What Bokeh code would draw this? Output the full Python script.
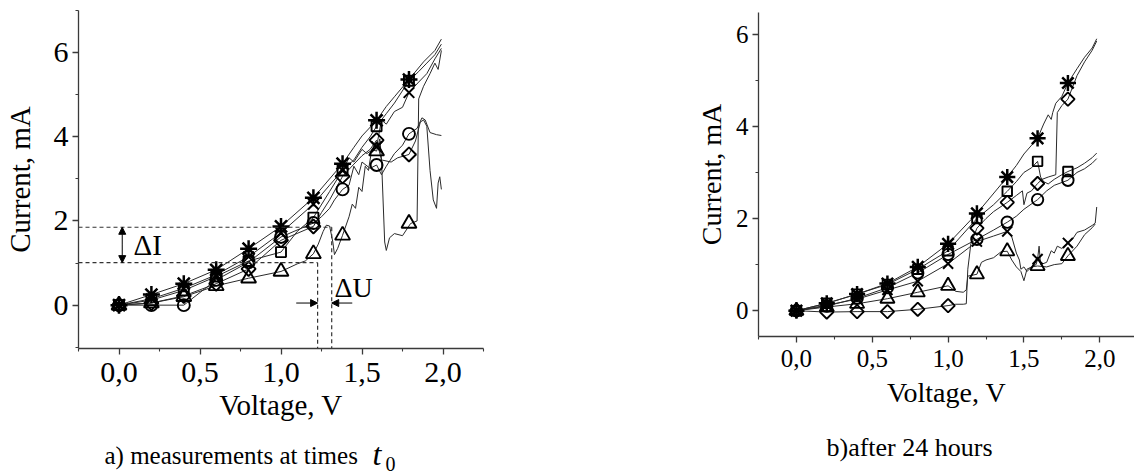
import math
from bokeh.plotting import figure
from bokeh.layouts import row, column
from bokeh.models import FixedTicker, Label, Arrow, NormalHead, CustomJSTickFormatter, Range1d, Spacer
from bokeh.embed import file_html
from bokeh.resources import INLINE

FONT = "Liberation Serif"

# ---------------- panel a) measurements at t0 ----------------
xa = [0.0, 0.2, 0.4, 0.6, 0.8, 1.0, 1.2, 1.38, 1.59, 1.79]
a_star = [0.0, 0.25, 0.51, 0.84, 1.34, 1.87, 2.55, 3.36, 4.39, 5.36]
a_square = [0.0, 0.12, 0.35, 0.68, 1.05, 1.26, 2.08, 3.2, 4.25, 5.33]
a_circle = [0.0, 0.0, 0.0, 0.6, 1.02, 1.62, 1.95, 2.75, 3.33, 4.07]
a_diamond = [0.0, 0.05, 0.22, 0.51, 0.86, 1.54, 1.87, 3.06, 3.92, 3.58]
a_triangle = [0.0, 0.05, 0.2, 0.46, 0.64, 0.8, 1.22, 1.66, 3.66, 1.94]
a_cross = [0.0, 0.15, 0.4, 0.72, 1.15, 1.72, 2.4, 3.2, 3.76, 5.05]

a_star_lx = [0, 0.2, 0.4, 0.6, 0.8, 1.0, 1.2, 1.38, 1.45, 1.5, 1.59, 1.65, 1.7, 1.79, 1.88, 1.95, 1.99]
a_star_ly = [0, 0.25, 0.51, 0.84, 1.34, 1.87, 2.55, 3.36, 3.75, 4.02, 4.39, 4.72, 4.95, 5.36, 5.78, 6.05, 6.32]
a_square_lx = [0, 0.2, 0.4, 0.6, 0.8, 1.0, 1.1, 1.2, 1.3, 1.38, 1.45, 1.5, 1.55, 1.59, 1.65, 1.7, 1.79, 1.85, 1.9, 1.95, 1.99]
a_square_ly = [0, 0.12, 0.35, 0.68, 1.05, 1.26, 1.75, 2.08, 2.7, 3.2, 3.45, 3.75, 4.0, 4.25, 4.55, 4.8, 5.33, 5.55, 5.75, 5.95, 6.2]
a_cross_lx = [0, 0.2, 0.4, 0.6, 0.8, 1.0, 1.2, 1.3, 1.38, 1.42, 1.45, 1.5, 1.53, 1.59, 1.62, 1.65, 1.7, 1.75, 1.79, 1.85, 1.9, 1.95, 1.99]
a_cross_ly = [0, 0.15, 0.4, 0.72, 1.15, 1.72, 2.4, 2.85, 3.2, 3.5, 3.4, 3.7, 3.6, 3.76, 4.4, 4.3, 4.6, 4.7, 5.05, 5.3, 5.5, 5.85, 6.1]
a_triangle_lx = [0, 0.2, 0.4, 0.6, 0.8, 1.0, 1.1, 1.15, 1.2, 1.23, 1.26, 1.28, 1.3, 1.32, 1.33, 1.35, 1.38, 1.42, 1.44, 1.46, 1.48,
                 1.5, 1.52, 1.54, 1.56, 1.59, 1.61, 1.62, 1.64, 1.65, 1.67, 1.7, 1.75, 1.8, 1.84, 1.85, 1.88, 1.92, 1.95, 1.97, 1.99]
a_triangle_ly = [0, 0.05, 0.2, 0.46, 0.64, 0.8, 0.98, 1.05, 1.22, 1.45, 1.75, 1.9, 1.88, 1.5, 1.2, 1.35, 1.66, 2.1, 2.4, 2.3, 2.8,
                 2.7, 3.3, 3.2, 3.7, 3.66, 3.95, 3.5, 1.5, 1.3, 1.6, 1.7, 1.65, 1.94, 2.0, 4.9, 5.2, 5.5, 5.75, 5.6, 6.05]
a_circle_lx = [0, 0.2, 0.4, 0.6, 0.8, 1.0, 1.2, 1.25, 1.3, 1.33, 1.38, 1.42, 1.45, 1.48, 1.5, 1.55, 1.59, 1.62, 1.65, 1.7, 1.75,
               1.79, 1.84, 1.87, 1.89, 1.92, 1.96, 1.99]
a_circle_ly = [0, 0, 0, 0.6, 1.02, 1.62, 1.95, 2.1, 2.3, 2.5, 2.75, 2.85, 3.3, 3.1, 3.4, 3.25, 3.33, 3.1, 3.3, 3.6, 3.8,
               4.07, 4.2, 4.45, 4.4, 4.1, 4.05, 4.03]
a_diamond_lx = [0, 0.2, 0.4, 0.6, 0.8, 1.0, 1.2, 1.25, 1.3, 1.38, 1.45, 1.5, 1.55, 1.59, 1.62, 1.68, 1.72, 1.79, 1.83, 1.86, 1.88,
                1.9, 1.92, 1.94, 1.96, 1.97, 1.98, 1.99]
a_diamond_ly = [0, 0.05, 0.22, 0.51, 0.86, 1.54, 1.87, 2.2, 2.5, 3.06, 3.35, 3.55, 3.7, 3.92, 3.45, 3.4, 3.5, 3.58, 3.9, 4.35, 4.4,
                4.25, 3.2, 2.5, 2.3, 2.9, 3.05, 2.75]

# delta annotations (panel a)
dI_low, dI_high = 1.01, 1.85
dU_left, dU_right = 1.226, 1.313

# ---------------- panel b) after 24 hours ----------------
xb = [0.0, 0.2, 0.4, 0.6, 0.8, 1.0, 1.19, 1.39, 1.59, 1.79]
b_star = [0.0, 0.16, 0.36, 0.59, 0.95, 1.45, 2.11, 2.9, 3.74, 4.94]
b_square = [0.0, 0.16, 0.36, 0.57, 0.9, 1.3, 2.0, 2.59, 3.24, 3.02]
b_circle = [0.0, 0.1, 0.27, 0.5, 0.82, 1.22, 1.55, 1.92, 2.41, 2.83]
b_diamond = [0.0, -0.03, -0.02, -0.02, 0.03, 0.11, 1.79, 2.35, 2.76, 4.59]
b_triangle = [0.0, 0.08, 0.15, 0.26, 0.4, 0.54, 0.79, 1.29, 0.97, 1.19]
b_cross = [0.0, 0.12, 0.25, 0.45, 0.64, 1.02, 1.5, 1.72, 1.12, 1.47]

b_star_lx = [0, 0.2, 0.4, 0.6, 0.8, 1.0, 1.19, 1.39, 1.45, 1.5, 1.59, 1.63, 1.66, 1.68, 1.69, 1.71, 1.75, 1.79, 1.85, 1.9, 1.95, 1.98]
b_star_ly = [0, 0.16, 0.36, 0.59, 0.95, 1.45, 2.11, 2.9, 3.15, 3.4, 3.74, 4.05, 4.25, 4.15, 4.3, 4.5, 4.65, 4.94, 5.25, 5.5, 5.7, 5.9]
b_square_lx = [0, 0.2, 0.4, 0.6, 0.8, 1.0, 1.19, 1.3, 1.39, 1.45, 1.5, 1.55, 1.59, 1.61, 1.63, 1.66, 1.7, 1.75, 1.79, 1.85, 1.9, 1.95, 1.98]
b_square_ly = [0, 0.16, 0.36, 0.57, 0.9, 1.3, 2.0, 2.3, 2.59, 2.8, 3.0, 3.1, 3.24, 2.9, 2.8, 2.75, 2.85, 2.95, 3.02, 3.1, 3.2, 3.32, 3.42]
b_circle_lx = [0, 0.2, 0.4, 0.6, 0.8, 1.0, 1.19, 1.3, 1.39, 1.45, 1.5, 1.59, 1.65, 1.7, 1.79, 1.85, 1.9, 1.95, 1.98]
b_circle_ly = [0, 0.1, 0.27, 0.5, 0.82, 1.22, 1.55, 1.75, 1.92, 2.05, 2.2, 2.41, 2.6, 2.72, 2.83, 3.0, 3.08, 3.2, 3.3]
b_diamond_lx = [0, 0.2, 0.4, 0.6, 0.8, 1.0, 1.05, 1.1, 1.12, 1.13, 1.15, 1.19, 1.25, 1.3, 1.39, 1.45, 1.49, 1.5, 1.52, 1.55, 1.59,
                1.62, 1.66, 1.71, 1.72, 1.75, 1.79, 1.85, 1.9, 1.95, 1.98]
b_diamond_ly = [0, -0.03, -0.02, -0.02, 0.03, 0.11, 0.14, 0.14, 0.15, 0.9, 1.45, 1.79, 2.0, 2.15, 2.35, 2.5, 2.6, 2.3, 2.55, 2.6, 2.76,
                2.85, 2.9, 2.95, 4.3, 4.45, 4.59, 5.1, 5.4, 5.65, 5.85]
b_triangle_lx = [0, 0.2, 0.4, 0.6, 0.8, 1.0, 1.05, 1.1, 1.12, 1.13, 1.19, 1.22, 1.25, 1.3, 1.35, 1.39, 1.42, 1.45, 1.48, 1.5, 1.52,
                 1.55, 1.59, 1.65, 1.7, 1.75, 1.79, 1.85, 1.9, 1.95, 1.97]
b_triangle_ly = [0, 0.08, 0.15, 0.26, 0.4, 0.54, 0.42, 0.4, 0.45, 0.75, 0.79, 1.05, 1.1, 1.15, 1.28, 1.29, 1.1, 0.95, 0.85, 0.65, 0.9,
                 0.95, 0.97, 0.95, 1.0, 1.02, 1.19, 1.4, 1.65, 1.8, 1.88]
b_cross_lx = [0, 0.2, 0.4, 0.6, 0.8, 1.0, 1.19, 1.3, 1.39, 1.42, 1.45, 1.47, 1.48, 1.5, 1.52, 1.55, 1.58, 1.59, 1.6, 1.61, 1.65,
              1.68, 1.7, 1.72, 1.75, 1.79, 1.82, 1.85, 1.9, 1.95, 1.97, 1.98]
b_cross_ly = [0, 0.12, 0.25, 0.45, 0.64, 1.02, 1.5, 1.62, 1.72, 1.6, 1.25, 1.1, 0.9, 0.95, 0.85, 0.95, 1.0, 1.12, 1.4, 1.0, 1.05,
              1.3, 1.25, 1.4, 1.35, 1.47, 1.55, 1.7, 1.75, 1.85, 1.9, 2.25]

x_major = [0.0, 0.5, 1.0, 1.5, 2.0]
x_minor = [-0.25, 0.25, 0.75, 1.25, 1.75, 2.25]
y_major = [0, 2, 4, 6]

LINE_COLOR = "#2a2a2a"
AXIS_COLOR = "#3a3a3a"


def style_axes(p, tick_size, label_size, y_minor, lbl_x, lbl_y, std_x, std_y):
    p.xgrid.visible = False
    p.ygrid.visible = False
    p.outline_line_color = None
    p.xaxis.ticker = FixedTicker(ticks=x_major, minor_ticks=x_minor)
    p.yaxis.ticker = FixedTicker(ticks=y_major, minor_ticks=y_minor)
    p.xaxis.formatter = CustomJSTickFormatter(code="return tick.toFixed(1).replace('.', ',');")
    for ax in (p.xaxis[0], p.yaxis[0]):
        ax.axis_line_color = AXIS_COLOR
        ax.axis_line_width = 1.3
        ax.major_tick_line_color = AXIS_COLOR
        ax.minor_tick_line_color = AXIS_COLOR
        ax.major_tick_line_width = 1.3
        ax.minor_tick_line_width = 1.1
        ax.major_tick_in = 0
        ax.major_tick_out = 6
        ax.minor_tick_in = 0
        ax.minor_tick_out = 3
        ax.major_label_text_font = FONT
        ax.major_label_text_font_size = tick_size
        ax.major_label_text_color = "black"
        ax.axis_label_text_font = FONT
        ax.axis_label_text_font_size = label_size
        ax.axis_label_text_font_style = "normal"
        ax.axis_label_text_color = "black"
    p.xaxis.major_label_standoff = std_x
    p.yaxis.major_label_standoff = std_y
    p.xaxis.axis_label_standoff = lbl_x
    p.yaxis.axis_label_standoff = lbl_y
    p.xaxis.axis_label = "Voltage, V"
    p.yaxis.axis_label = "Current, mA"


def draw_series(p, lines, marks, scale):
    for lx, ly in lines:
        p.line(lx, ly, line_color=LINE_COLOR, line_width=1.0)
    for mx, my, mk in marks:
        kw = dict(line_color="black", fill_color=None)
        if mk == "diamond":
            p.scatter(mx, my, marker="square", angle=math.pi / 4, size=10 * scale, line_width=1.9, **kw)
        elif mk == "asterisk":
            p.scatter(mx, my, marker="asterisk", size=17 * scale, line_width=2.5, **kw)
        elif mk == "x":
            p.scatter(mx, my, marker="x", size=15 * scale, line_width=2.0, **kw)
        elif mk == "triangle":
            p.scatter(mx, my, marker="triangle", size=15 * scale, line_width=1.9, **kw)
        elif mk == "square":
            p.scatter(mx, my, marker="square", size=10 * scale, line_width=1.9, **kw)
        else:
            p.scatter(mx, my, marker="circle", size=12 * scale, line_width=1.9, **kw)


def caption_fig(w, h, left, right):
    c = figure(width=w, height=h, x_range=Range1d(0, 1), y_range=Range1d(0, 1),
               output_backend="svg", toolbar_location=None, x_axis_location=None, y_axis_location=None,
               min_border_left=left, min_border_right=right, min_border_top=0, min_border_bottom=0)
    c.xgrid.visible = False
    c.ygrid.visible = False
    c.outline_line_color = None
    return c


B = 70  # common bottom border of both main figures

# ---------- figure a ----------
pa = figure(width=568, height=10 + 343 + B, x_range=Range1d(-0.25, 2.25), y_range=Range1d(-1.03, 7.0),
            output_backend="svg", toolbar_location=None,
            min_border_left=72, min_border_right=85, min_border_top=10, min_border_bottom=B)
style_axes(pa, "30px", "29px", [-1, 1, 3, 5, 7], 4, 15, 8, 4)

draw_series(pa,
            [(a_star_lx, a_star_ly), (a_square_lx, a_square_ly), (a_cross_lx, a_cross_ly),
             (a_triangle_lx, a_triangle_ly), (a_circle_lx, a_circle_ly), (a_diamond_lx, a_diamond_ly)],
            [(xa, a_triangle, "triangle"), (xa, a_circle, "circle"), (xa, a_diamond, "diamond"),
             (xa, a_square, "square"), (xa, a_cross, "x"), (xa, a_star, "asterisk")], 1.0)

# dashed guide lines for delta I and delta U
pa.segment(x0=[-0.25, -0.25], y0=[dI_high, dI_low], x1=[dU_right, dU_left], y1=[dI_high, dI_low],
           line_color="#333333", line_dash="4 3", line_width=1.2)
pa.segment(x0=[dU_left, dU_right], y0=[dI_low, dI_high], x1=[dU_left, dU_right], y1=[-1.03, -1.03],
           line_color="#333333", line_dash="4 3", line_width=1.2)
head = dict(size=7, fill_color="black", line_color="black")
pa.add_layout(Arrow(x_start=0.02, y_start=(dI_low + dI_high) / 2, x_end=0.02, y_end=dI_high,
                    end=NormalHead(**head), line_width=1, line_color="black"))
pa.add_layout(Arrow(x_start=0.02, y_start=(dI_low + dI_high) / 2, x_end=0.02, y_end=dI_low,
                    end=NormalHead(**head), line_width=1, line_color="black"))
pa.add_layout(Arrow(x_start=1.094, y_start=0.05, x_end=dU_left, y_end=0.05,
                    end=NormalHead(**head), line_width=1, line_color="black"))
pa.add_layout(Arrow(x_start=1.44, y_start=0.05, x_end=dU_right, y_end=0.05,
                    end=NormalHead(**head), line_width=1, line_color="black"))
pa.add_layout(Label(x=0.09, y=(dI_low + dI_high) / 2, text="ΔI", text_font=FONT, text_font_size="29px",
                    text_baseline="middle", text_color="black"))
pa.add_layout(Label(x=1.33, y=0.42, text="ΔU", text_font=FONT, text_font_size="28px",
                    text_baseline="middle", text_color="black"))

# caption a
ca = caption_fig(568, 50, 72, 85)
ca.add_layout(Label(x=26, y=18, x_units="screen", y_units="screen", text="a) measurements at times",
                    text_font=FONT, text_font_size="25px", text_baseline="middle", text_color="black"))
ca.add_layout(Label(x=294, y=20, x_units="screen", y_units="screen", text="t",
                    text_font=FONT, text_font_size="32px", text_font_style="italic",
                    text_baseline="middle", text_color="black"))
ca.add_layout(Label(x=307, y=10, x_units="screen", y_units="screen", text="0",
                    text_font=FONT, text_font_size="20px",
                    text_baseline="middle", text_color="black"))

# ---------- figure b ----------
pb = figure(width=566, height=10 + 328 + B, x_range=Range1d(-0.25, 2.229), y_range=Range1d(-0.56, 6.47),
            output_backend="svg", toolbar_location=None,
            min_border_left=190, min_border_right=0, min_border_top=10, min_border_bottom=B)
style_axes(pb, "25px", "28px", [1, 3, 5], 7, 6, 7, 4)

draw_series(pb,
            [(b_star_lx, b_star_ly), (b_square_lx, b_square_ly), (b_circle_lx, b_circle_ly),
             (b_diamond_lx, b_diamond_ly), (b_triangle_lx, b_triangle_ly), (b_cross_lx, b_cross_ly)],
            [(xb, b_triangle, "triangle"), (xb, b_circle, "circle"), (xb, b_diamond, "diamond"),
             (xb, b_square, "square"), (xb, b_cross, "x"), (xb, b_star, "asterisk")], 0.95)

cb = caption_fig(566, 63, 190, 0)
cb.add_layout(Label(x=68, y=26, x_units="screen", y_units="screen", text="b)after 24 hours",
                    text_font=FONT, text_font_size="26px", text_baseline="middle", text_color="black"))

layout = row(column(pa, ca), column(Spacer(width=566, height=2), pb, cb))
open("out.html", "w").write(file_html(layout, INLINE))
